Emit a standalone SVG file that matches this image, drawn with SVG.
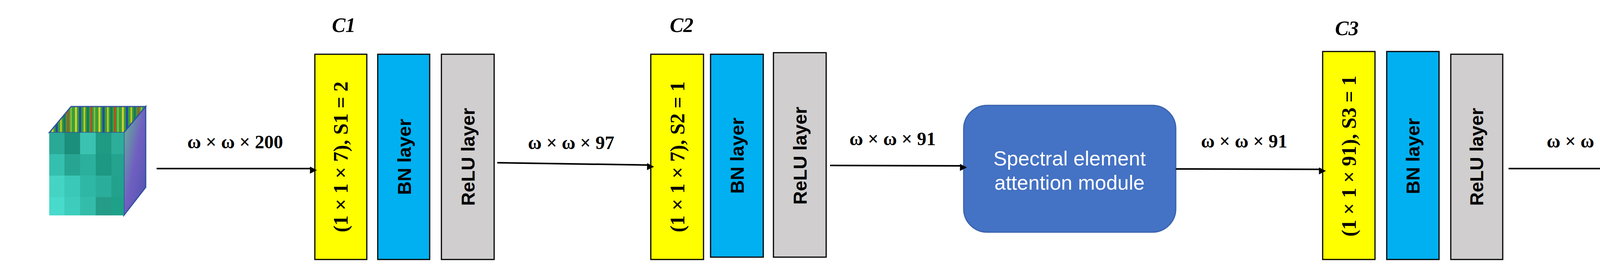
<svg xmlns="http://www.w3.org/2000/svg" width="4566" height="715" viewBox="0 0 4566 715">
<defs>
<style>
.conn{stroke:#000;stroke-width:4;fill:none}
.lbl{font-family:"Liberation Serif",serif;font-weight:bold;font-size:48px;fill:#000;text-anchor:middle}
.cl{font-family:"Liberation Serif",serif;font-weight:bold;font-style:italic;font-size:52px;fill:#000;text-anchor:middle}
.conv{fill:#ffff00;stroke:#000;stroke-width:3}
.bn{fill:#00b0f0;stroke:#000;stroke-width:3}
.relu{fill:#d0cece;stroke:#000;stroke-width:3}
.vt{font-family:"Liberation Serif",serif;font-weight:bold;font-size:52px;fill:#000;text-anchor:middle;dominant-baseline:central}
.vs{font-family:"Liberation Sans",sans-serif;font-weight:bold;font-size:48px;fill:#000;text-anchor:middle;dominant-baseline:central}
.att{font-family:"Liberation Sans",sans-serif;font-size:52px;fill:#fff;text-anchor:middle}
</style>
<marker id="ah" viewBox="0 0 10 10" refX="9" refY="5" markerWidth="5" markerHeight="5" orient="auto" markerUnits="userSpaceOnUse" overflow="visible">
<path d="M0,0 L10,5 L0,10 z" fill="#000" transform="translate(-4,-5) scale(3.6)"/>
</marker>
<pattern id="px" width="200" height="220" patternUnits="userSpaceOnUse" x="125" y="340">
<rect width="200" height="220" fill="#2fb8a6"/>
<rect x="0" y="0" width="40" height="55" fill="#2aa996"/><rect x="40" y="0" width="40" height="55" fill="#1b8f7c"/><rect x="80" y="0" width="40" height="55" fill="#3cc2b0"/><rect x="120" y="0" width="40" height="55" fill="#1f9a83"/><rect x="160" y="0" width="40" height="55" fill="#2cae9a"/>
<rect x="0" y="55" width="40" height="55" fill="#35bfae"/><rect x="40" y="55" width="40" height="55" fill="#27a592"/><rect x="80" y="55" width="40" height="55" fill="#2bb09d"/><rect x="120" y="55" width="40" height="55" fill="#1d9882"/><rect x="160" y="55" width="40" height="55" fill="#24a38f"/>
<rect x="0" y="110" width="40" height="55" fill="#45d3c4"/><rect x="40" y="110" width="40" height="55" fill="#3ac8b8"/><rect x="80" y="110" width="40" height="55" fill="#2fb7a5"/><rect x="120" y="110" width="40" height="55" fill="#2aae9b"/><rect x="160" y="110" width="40" height="55" fill="#22a28d"/>
<rect x="0" y="165" width="40" height="55" fill="#48dacb"/><rect x="40" y="165" width="40" height="55" fill="#3ecdbc"/><rect x="80" y="165" width="40" height="55" fill="#33bca9"/><rect x="120" y="165" width="40" height="55" fill="#249c88"/><rect x="160" y="165" width="40" height="55" fill="#1fa089"/>
</pattern>
<pattern id="stripes" width="60" height="80" patternUnits="userSpaceOnUse" x="126" y="273">
<rect width="60" height="80" fill="#3a9e3a"/>
<rect x="6" width="5" height="80" fill="#d0d030"/><rect x="16" width="6" height="80" fill="#2050a0"/><rect x="28" width="4" height="80" fill="#c8c820"/><rect x="36" width="6" height="80" fill="#1a7a5a"/><rect x="46" width="4" height="80" fill="#d04020"/><rect x="54" width="4" height="80" fill="#80c040"/>
</pattern>
<linearGradient id="side" x1="0" x2="1" y1="0" y2="1">
<stop offset="0" stop-color="#60c090"/><stop offset="0.5" stop-color="#7060c0"/><stop offset="1" stop-color="#5050b0"/>
</linearGradient>
</defs>
<rect width="4566" height="715" fill="#fff"/>

<g id="input-cube">
<polygon points="126,340 182,273 373,273 317,340" fill="url(#stripes)" stroke="#3050a0" stroke-width="3"/>
<polygon points="317,340 373,273 373,480 317,552" fill="url(#side)" stroke="#3050a0" stroke-width="3"/>
<rect x="126" y="340" width="191" height="212" fill="url(#px)"/>
</g>

<g id="c1">
<text class="cl" x="880" y="82">C1</text>
<rect class="conv" x="806" y="139" width="133" height="526"/>
<text class="vt" transform="translate(872,402) rotate(-90)">(1 × 1 × 7), S1 = 2</text>
<rect class="bn" x="967" y="139" width="133" height="526"/>
<text class="vs" transform="translate(1035,402) rotate(-90)">BN layer</text>
<rect class="relu" x="1130" y="139" width="135" height="526"/>
<text class="vs" transform="translate(1198,402) rotate(-90)">ReLU layer</text>
</g>

<g id="c2">
<text class="cl" x="1745" y="82">C2</text>
<rect class="conv" x="1666" y="139" width="135" height="526"/>
<text class="vt" transform="translate(1734,402) rotate(-90)">(1 × 1 × 7), S2 = 1</text>
<rect class="bn" x="1819" y="139" width="135" height="520"/>
<text class="vs" transform="translate(1887,399) rotate(-90)">BN layer</text>
<rect class="relu" x="1980" y="135" width="135" height="524"/>
<text class="vs" transform="translate(2048,399) rotate(-90)">ReLU layer</text>
</g>

<g id="attention">
<rect x="2467" y="270" width="543" height="325" rx="60" fill="#4472c4" stroke="#3a63ad" stroke-width="3"/>
<text class="att" x="2738" y="424">Spectral element</text>
<text class="att" x="2738" y="486">attention module</text>
</g>

<g id="c3">
<text class="cl" x="3448" y="90">C3</text>
<rect class="conv" x="3386" y="132" width="134" height="533"/>
<text class="vt" transform="translate(3453,400) rotate(-90)">(1 × 1 × 91), S3 = 1</text>
<rect class="bn" x="3550" y="132" width="134" height="533"/>
<text class="vs" transform="translate(3617,400) rotate(-90)">BN layer</text>
<rect class="relu" x="3714" y="139" width="133" height="526"/>
<text class="vs" transform="translate(3780,402) rotate(-90)">ReLU layer</text>
</g>

<g id="output">
<rect x="4284" y="295" width="198" height="222" fill="url(#px)" stroke="#808080" stroke-width="5"/>
</g>

<g id="connectors">
<line class="conn" x1="401" y1="432" x2="800" y2="432" marker-end="url(#ah)"/>
<line class="conn" x1="1273" y1="417" x2="1663" y2="423" marker-end="url(#ah)"/>
<line class="conn" x1="2125" y1="424" x2="2464" y2="425" marker-end="url(#ah)"/>
<line class="conn" x1="3010" y1="433" x2="3383" y2="434" marker-end="url(#ah)"/>
<line class="conn" x1="3862" y1="432" x2="4280" y2="432" marker-end="url(#ah)"/>
<text class="lbl" x="602" y="380">ω × ω × 200</text>
<text class="lbl" x="1462" y="382">ω × ω × 97</text>
<text class="lbl" x="2285" y="372">ω × ω × 91</text>
<text class="lbl" x="3185" y="378">ω × ω × 91</text>
<text class="lbl" x="4058" y="378">ω × ω × 1</text>
</g>
</svg>
